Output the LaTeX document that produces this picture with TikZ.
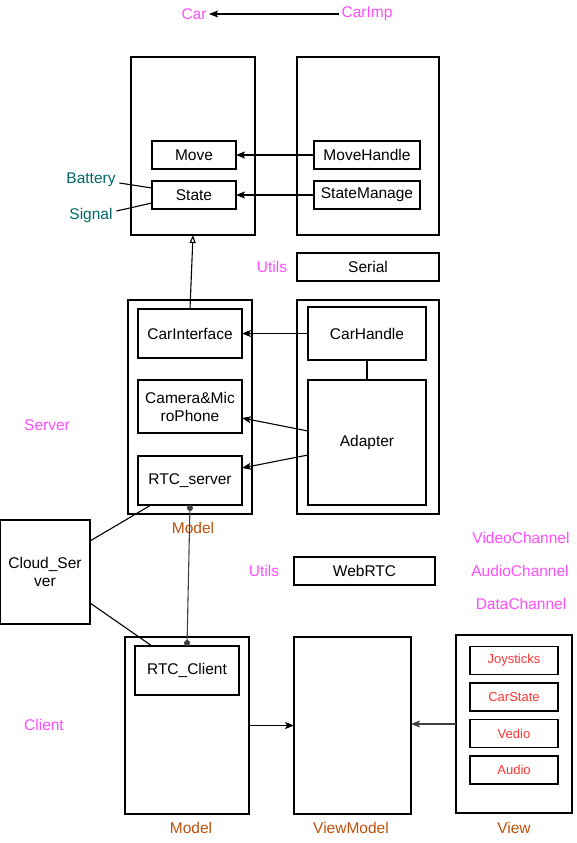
\documentclass[tikz,border=0pt]{standalone}
\usepackage{fontspec}
\setmainfont{Liberation Sans}
\usetikzlibrary{arrows.meta}
\definecolor{pinky}{RGB}{255,77,255}
\definecolor{tealtx}{RGB}{0,102,102}
\definecolor{browntx}{RGB}{190,80,10}
\definecolor{redtx}{RGB}{255,51,51}
\begin{document}
\begin{tikzpicture}[x=1pt,y=-1pt,line width=1.1pt,
    font=\fontsize{15.5}{18}\selectfont,
    boxed/.style={draw,inner sep=0pt,outer sep=0pt,align=center,
      minimum width=#1},
    pinklbl/.style={text=pinky,inner sep=2pt},
    brownlbl/.style={text=browntx,inner sep=2pt},
    redbox/.style={boxed=88pt,minimum height=28pt,text=redtx,
      font=\fontsize{13}{15}\selectfont},
    arr/.style={-{Stealth[length=9pt,width=7pt,inset=2pt]}}]
  \useasboundingbox (0,0) rectangle (577,843);

  % Car / CarImp
  \node[pinklbl] (car) at (194,14) {Car};
  \node[pinklbl] (carimp) at (367,14) {CarImp};
  \node[boxed=124pt,minimum height=178pt] (carbox) at (193,146) {};
  \node[boxed=84pt,minimum height=28pt] (move) at (194,155) {Move};
  \node[boxed=84pt,minimum height=28pt] (state) at (194,195) {State};
  \node[boxed=142pt,minimum height=178pt] (carimpbox) at (368,146) {};
  \node[boxed=106pt,minimum height=28pt] (movehandle) at (367,155) {MoveHandle};
  \node[boxed=106pt,minimum height=28pt] (statemanage) at (367,195) {StateManage};
  \node[text=tealtx] (battery) at (91,180) {Battery};
  \node[text=tealtx] (signal) at (91,215) {Signal};
  \node[pinklbl] (utils1) at (272,267) {Utils};
  \node[boxed=142pt,minimum height=28pt] (serial) at (368,267) {Serial};

  % Server
  \node[pinklbl] (server) at (47,425) {Server};
  \node[boxed=124pt,minimum height=214pt] (smodel) at (190,407) {};
  \node[boxed=104pt,minimum height=49pt] (carinterface) at (190,333.5) {CarInterface};
  \node[boxed=104pt,minimum height=53pt] (camera) at (190,406.5) {Camera\&Mic\\roPhone};
  \node[boxed=104pt,minimum height=49pt] (rtcs) at (190,480.5) {RTC\_server};
  \node[brownlbl] (smodellbl) at (193,528) {Model};
  \node[boxed=142pt,minimum height=214pt] (shandle) at (368,407) {};
  \node[boxed=118pt,minimum height=53pt] (carhandle) at (367,333.5) {CarHandle};
  \node[boxed=118pt,minimum height=125pt] (adapter) at (367,442.5) {Adapter};

  % middle
  \node[boxed=90pt,minimum height=104pt] (cloud) at (45,572) {Cloud\_Ser\\ver};
  \node[pinklbl] (utils2) at (264,571) {Utils};
  \node[boxed=141pt,minimum height=28pt] (webrtc) at (364.5,571) {WebRTC};
  \node[pinklbl] (video) at (521,538) {VideoChannel};
  \node[pinklbl] (audioch) at (520,571) {AudioChannel};
  \node[pinklbl] (data) at (521,604) {DataChannel};

  % Client
  \node[pinklbl] (client) at (44,725) {Client};
  \node[boxed=124pt,minimum height=177pt] (cmodel) at (187,725.5) {};
  \node[boxed=104pt,minimum height=49pt] (rtcc) at (187,670.5) {RTC\_Client};
  \node[boxed=117pt,minimum height=177pt] (vm) at (352.5,725.5) {};
  \node[boxed=116pt,minimum height=178pt] (view) at (514,724) {};
  \node[redbox] (joy) at (514,660.5) {Joysticks};
  \node[redbox] (carstate) at (514,697) {CarState};
  \node[redbox] (vedio) at (514,733.5) {Vedio};
  \node[redbox] (audio) at (514,770) {Audio};
  \node[brownlbl] (cmodellbl) at (191,828) {Model};
  \node[brownlbl] (vmlbl) at (351,828) {ViewModel};
  \node[brownlbl] (viewlbl) at (514,828) {View};

  % connectors
  \draw[arr] (carimp) -- (car);
  \draw[arr] (movehandle) -- (move);
  \draw[arr] (statemanage) -- (state);
  \draw ([yshift=-3pt]battery.east) -- ([yshift=7pt]state.west);
  \draw ([yshift=4pt]signal.east) -- ([yshift=-8pt]state.west);
  \draw[-{Triangle[open,length=8pt,width=6pt]}] (carinterface.north) -- (carbox.south);
  \draw[arr] (carhandle) -- (carinterface);
  \draw (carhandle) -- (adapter);
  \draw[arr] ([yshift=11.5pt]adapter.west) -- ([yshift=-11.5pt]camera.east);
  \draw[arr] ([yshift=-12.5pt]adapter.west) -- ([yshift=12.5pt]rtcs.east);
  \draw ([yshift=31pt]cloud.east) -- ([xshift=-39pt]rtcs.south);
  \draw ([yshift=-31pt]cloud.east) -- ([xshift=-35pt]rtcc.north);
  \draw[black!75,{Circle[length=6pt]}-{Circle[length=6pt]}] (rtcs.south) -- (rtcc.north);
  \draw[arr] (cmodel.east) -- (vm.west);
  \draw[arr,black!75] (view.west) -- (view.west -| vm.east);
\end{tikzpicture}
\end{document}
